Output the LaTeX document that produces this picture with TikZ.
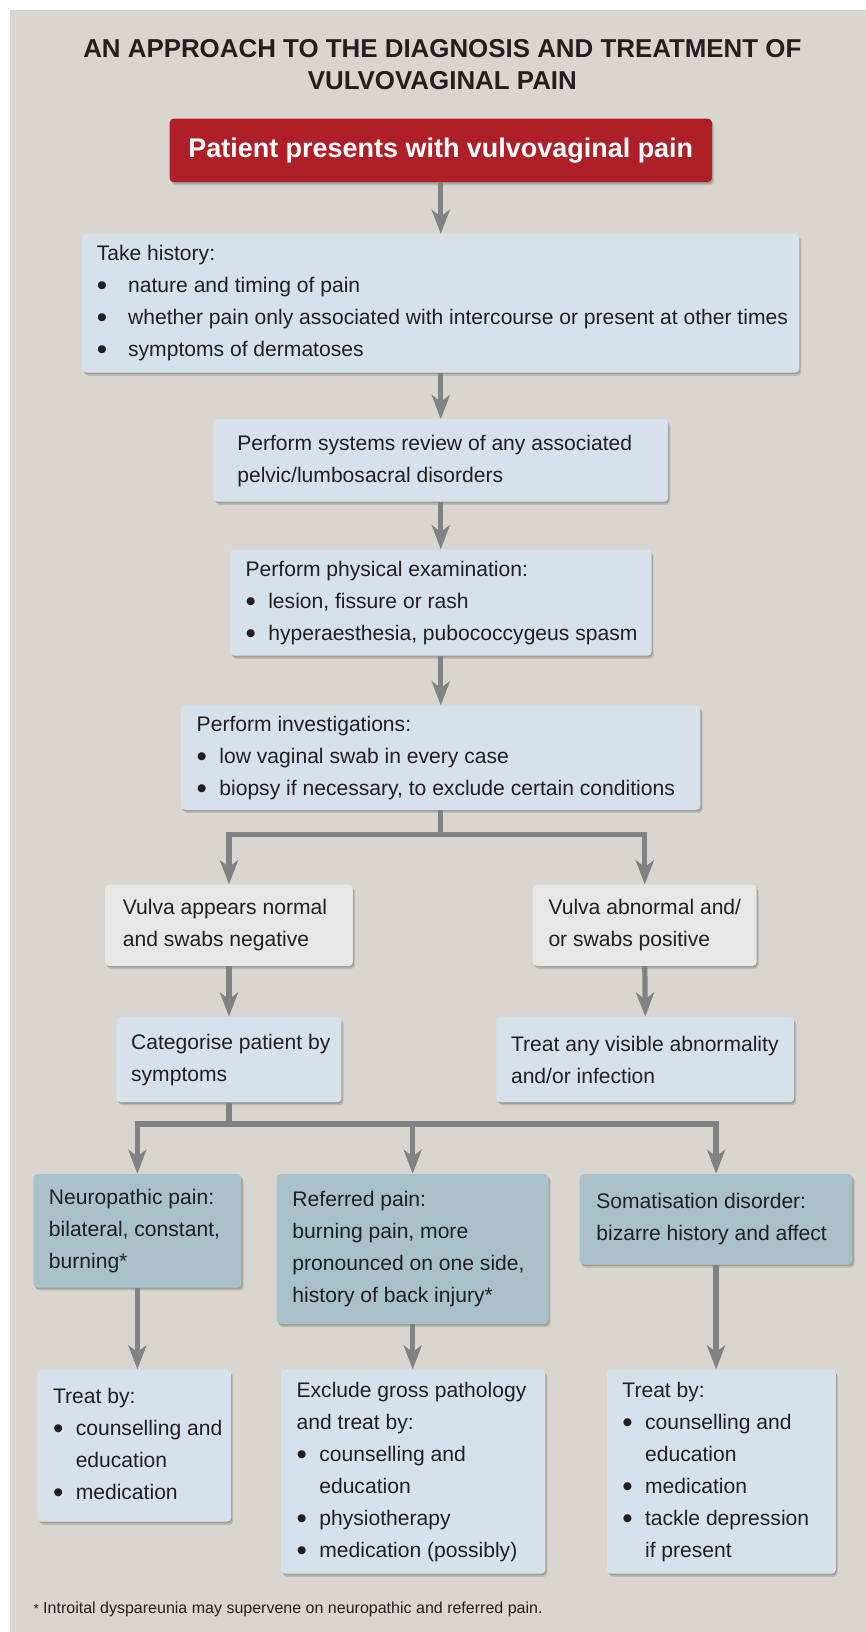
\documentclass[tikz,border=0pt]{standalone}
\usepackage{fontspec}
\setmainfont{Liberation Sans}
\usetikzlibrary{arrows.meta,shadows,calc}
\definecolor{bgc}{HTML}{D9D6CF}
\definecolor{lblue}{HTML}{D7E1EC}
\definecolor{lgrey}{HTML}{E7E7E7}
\definecolor{teal}{HTML}{A8C1CA}
\definecolor{redc}{HTML}{AF1F27}
\definecolor{arrc}{HTML}{808284}
\definecolor{txtc}{HTML}{231F20}
\newcommand\bodyfont{\fontsize{15.8pt}{24pt}\selectfont}
\newcommand\bigbul{\raisebox{-2.2pt}{\scalebox{1.4}{\textbullet}}}
\newcommand\BI{\makebox[17pt][l]{\bigbul}}
\newcommand\IN{\hspace*{17pt}}
\newcommand\BW{\makebox[23.5pt][l]{\bigbul}}
% name, x1, y1, x2, y2, pad, style, content
\newcommand\mkbox[8]{%
  \node[#7, minimum width={(#4-#2)*0.78pt}, minimum height={(#5-#3)*0.78pt}] (#1) at ({(#2+#4)/2},{(#3+#5)/2}) {};
  \node[txt, anchor=west] (#1t) at ([xshift=#6*0.78pt]#1.west) {#8};
}
\tikzset{
  boxbase/.style={rounded corners=3pt, inner sep=0pt, draw=none,
    drop shadow={shadow xshift=1.6pt, shadow yshift=-2.4pt, opacity=0.12, fill=black},
    drop shadow={shadow xshift=0.8pt, shadow yshift=-1.2pt, opacity=0.15, fill=black}},
  bluebox/.style={boxbase, fill=lblue},
  greybox/.style={boxbase, fill=lgrey},
  tealbox/.style={boxbase, fill=teal},
  redbox/.style={boxbase, fill=redc, text=white, font=\fontsize{20.2pt}{24pt}\selectfont\bfseries},
  txt/.style={inner sep=0pt, align=left, text=txtc, font=\bodyfont},
  conn/.style={draw=arrc, line width=3.9pt, line join=miter},
  arr/.style={conn, -{Stealth[length=18pt, width=13.5pt, inset=5pt]}},
}
\begin{document}
\begin{tikzpicture}[x=0.78pt, y=-0.78pt]
\useasboundingbox (0,0) rectangle (832,1568);
\fill[white] (0,0) rectangle (832,1568);
\fill[bgc] (10,10) rectangle (832,1568);

\node[align=center, text=txtc, font=\fontsize{19.4pt}{23.4pt}\selectfont\bfseries] (title) at (425,62)
  {AN APPROACH TO THE DIAGNOSIS AND TREATMENT OF\\VULVOVAGINAL PAIN};

\node[redbox, minimum width={521*0.78pt}, minimum height={61*0.78pt}] (b0) at (423.5,144.5)
  {Patient presents with vulvovaginal pain};

\mkbox{b1}{79}{225}{768}{358}{14}{bluebox}{Take history:\\
  \BW nature and timing of pain\\
  \BW whether pain only associated with intercourse or present at other times\\
  \BW symptoms of dermatoses}
\mkbox{b2}{205}{403}{642}{482}{23}{bluebox}{Perform systems review of any associated\\pelvic/lumbosacral disorders}
\mkbox{b3}{221}{528}{626}{630}{15}{bluebox}{Perform physical examination:\\
  \BI lesion, fissure or rash\\
  \BI hyperaesthesia, pubococcygeus spasm}
\mkbox{b4}{174}{678}{673}{778}{15}{bluebox}{Perform investigations:\\
  \BI low vaginal swab in every case\\
  \BI biopsy if necessary, to exclude certain conditions}
\mkbox{b5}{101}{850}{339}{928}{17}{greybox}{Vulva appears normal\\and swabs negative}
\mkbox{b6}{512}{850}{727}{928}{15}{greybox}{Vulva abnormal and/\\or swabs positive}
\mkbox{b7}{112}{977}{328}{1059}{14}{bluebox}{Categorise patient by\\symptoms}
\mkbox{b8}{477}{977}{763}{1059}{14}{bluebox}{Treat any visible abnormality\\and/or infection}
\mkbox{b9}{32}{1128}{232}{1237}{15}{tealbox}{Neuropathic pain:\\bilateral, constant,\\burning*}
\mkbox{b10}{266}{1128}{527}{1272}{15}{tealbox}{Referred pain:\\burning pain, more\\pronounced on one side,\\history of back injury*}
\mkbox{b11}{557}{1128}{819}{1215}{16}{tealbox}{Somatisation disorder:\\bizarre history and affect}
\mkbox{b12}{36}{1316}{222}{1462}{15}{bluebox}{Treat by:\\
  \BI counselling and\\ \IN education\\
  \BI medication}
\mkbox{b13}{270}{1316}{524}{1512}{15}{bluebox}{Exclude gross pathology\\and treat by:\\
  \BI counselling and\\ \IN education\\
  \BI physiotherapy\\
  \BI medication (possibly)}
\mkbox{b14}{583}{1316}{803}{1512}{15}{bluebox}{Treat by:\\
  \BI counselling and\\ \IN education\\
  \BI medication\\
  \BI tackle depression\\ \IN if present}

\node[anchor=base west, inner sep=0pt, text=txtc, font=\fontsize{12pt}{14pt}\selectfont] (fn) at (32,1550)
  {{\fontsize{10pt}{12pt}\selectfont*} Introital dyspareunia may supervene on neuropathic and referred pain.};

% connectors
\draw[arr] (b0.south) -- (b1.north);
\draw[arr] (b1.south) -- (b2.north);
\draw[arr] (b2.south) -- (b3.north);
\draw[arr] (b3.south) -- (b4.north);
\coordinate (s1) at (423.5,802);
\draw[conn] (b4.south) -- (s1);
\draw[arr] (s1) -| (b5.north);
\draw[arr] (s1) -| (b6.north);
\draw[arr] (b5.south) -- (b7.north);
\draw[arr] (b6.south) -- (b8.north);
\coordinate (s2) at (220,1080);
\draw[conn] (b7.south) -- (s2);
\draw[arr] (s2) -| (b9.north);
\draw[arr] (s2) -| (b10.north);
\draw[arr] (s2) -| (b11.north);
\draw[arr] (b9.south) -- (b9.south |- b12.north);
\draw[arr] (b10.south) -- (b10.south |- b13.north);
\draw[arr] (b11.south) -- (b11.south |- b14.north);
\end{tikzpicture}
\end{document}
